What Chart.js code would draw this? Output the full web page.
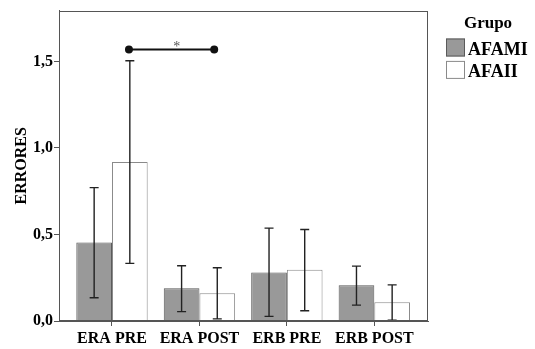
<!DOCTYPE html>
<html>
<head>
<meta charset="utf-8">
<script src="https://cdn.jsdelivr.net/npm/chart.js@4"></script>
<style>
  html, body { margin: 0; padding: 0; background: #fff; }
</style>
</head>
<body>
<canvas id="erroresChart" width="535" height="349"></canvas>
<script>
// data
const categories = ['ERA PRE', 'ERA POST', 'ERB PRE', 'ERB POST'];
const groupNames = ['AFAMI', 'AFAII'];
const afami = [0.454, 0.189, 0.281, 0.206];
const afamiLow = [0.134, 0.054, 0.027, 0.092];
const afamiHigh = [0.771, 0.319, 0.537, 0.317];
const afaii = [0.919, 0.160, 0.296, 0.108];
const afaiiLow = [0.333, 0.012, 0.059, 0.004];
const afaiiHigh = [1.504, 0.308, 0.529, 0.209];
const yTicks = [0, 0.5, 1.0, 1.5];
// significance bracket (ERA PRE AFAII vs ERA POST AFAII)
const sigX = [0.194, 1.169];
const sigY = 1.569;
const sigMark = '*';
const sigMarkX = 0.74;

const serif = "'Liberation Serif', 'Times New Roman', serif";
Chart.defaults.font.family = serif;
Chart.defaults.color = '#000';

const errorBars = [[afamiLow, afamiHigh], [afaiiLow, afaiiHigh]];

const decorPlugin = {
    id: 'decor',
    afterDatasetsDraw(chart) {
        const ctx = chart.ctx;
        const a = chart.chartArea;
        const x = chart.scales.x;
        const y = chart.scales.y;
        ctx.save();
        // error bars
        ctx.strokeStyle = '#222';
        ctx.lineWidth = 1.4;
        errorBars.forEach((e, d) => {
            chart.getDatasetMeta(d).data.forEach((bar, i) => {
                const bx = bar.x;
                const y1 = y.getPixelForValue(e[0][i]);
                const y2 = y.getPixelForValue(e[1][i]);
                ctx.beginPath();
                ctx.moveTo(bx, y1); ctx.lineTo(bx, y2);
                ctx.moveTo(bx - 4.5, y1); ctx.lineTo(bx + 4.5, y1);
                ctx.moveTo(bx - 4.5, y2); ctx.lineTo(bx + 4.5, y2);
                ctx.stroke();
            });
        });
        // plot frame
        ctx.strokeStyle = '#555';
        ctx.lineWidth = 1;
        ctx.strokeRect(Math.round(a.left) + 0.5, Math.round(a.top) + 0.5,
            Math.round(a.width) - 1, Math.round(a.height) - 1);
        // star over the bracket
        ctx.fillStyle = '#555';
        ctx.font = '14px ' + serif;
        ctx.textAlign = 'center';
        ctx.textBaseline = 'alphabetic';
        ctx.fillText(sigMark, x.getPixelForValue(sigMarkX), y.getPixelForValue(sigY) + 1.5);
        ctx.restore();
    },
    afterDraw(chart) {
        // legend on the right
        const ctx = chart.ctx;
        ctx.save();
        ctx.fillStyle = '#000';
        ctx.textAlign = 'center';
        ctx.font = 'bold 17px ' + serif;
        ctx.fillText('Grupo', 488, 28);
        ctx.textAlign = 'left';
        ctx.font = 'bold 18px ' + serif;
        [0, 1].forEach(i => {
            const ds = chart.data.datasets[i];
            const top = 38.5 + i * 22.4;
            ctx.fillStyle = ds.backgroundColor;
            ctx.fillRect(446, top, 19, 18);
            ctx.strokeStyle = ds.borderColor;
            ctx.lineWidth = 1;
            ctx.strokeRect(446.5, top + 0.5, 18, 17);
            ctx.fillStyle = '#000';
            ctx.fillText(ds.label, 468, top + 16);
        });
        ctx.restore();
    }
};

new Chart(document.getElementById('erroresChart').getContext('2d'), {
    type: 'bar',
    data: {
        datasets: [{
            label: groupNames[0],
            data: categories.map((c, i) => ({ x: i, y: afami[i] })),
            backgroundColor: '#999999',
            borderColor: '#5a5a5a',
            borderWidth: 1,
            categoryPercentage: 0.816,
            barPercentage: 1.0
        }, {
            label: groupNames[1],
            data: categories.map((c, i) => ({ x: i, y: afaii[i] })),
            backgroundColor: '#ffffff',
            borderColor: '#8a8a8a',
            borderWidth: 1,
            categoryPercentage: 0.816,
            barPercentage: 1.0
        }, {
            type: 'line',
            label: 'sig',
            data: sigX.map(v => ({ x: v, y: sigY })),
            borderColor: '#111',
            borderWidth: 2,
            pointRadius: 3,
            pointBackgroundColor: '#111',
            pointBorderColor: '#111'
        }]
    },
    options: {
        responsive: false,
        animation: false,
        layout: { padding: { top: 10, right: 107, left: 0, bottom: 0 } },
        plugins: {
            legend: { display: false },
            tooltip: { enabled: false }
        },
        scales: {
            x: {
                type: 'linear',
                offset: false,
                min: -0.606,
                max: 3.614,
                afterBuildTicks: scale => { scale.ticks = categories.map((c, i) => ({ value: i })); },
                afterFit: scale => { scale.height = 28; },
                ticks: {
                    callback: v => categories[v],
                    font: { size: 16, weight: 'bold' },
                    padding: 3,
                    maxRotation: 0,
                    autoSkip: false
                },
                grid: { drawOnChartArea: false, offset: false, tickLength: 5, color: '#555' },
                border: { color: '#555' }
            },
            y: {
                min: 0,
                max: 1.794,
                afterBuildTicks: scale => { scale.ticks = yTicks.map(v => ({ value: v })); },
                afterFit: scale => { scale.width = 59; },
                ticks: {
                    callback: v => v.toFixed(1).replace('.', ','),
                    font: { size: 16, weight: 'bold' },
                    padding: 1
                },
                grid: { drawOnChartArea: false, tickLength: 5, color: '#555' },
                border: { color: '#555' },
                title: {
                    display: true,
                    text: 'ERRORES',
                    font: { size: 16, weight: 'bold' },
                    padding: { top: 12, bottom: 0 }
                }
            }
        }
    },
    plugins: [decorPlugin]
});
</script>
</body>
</html>
